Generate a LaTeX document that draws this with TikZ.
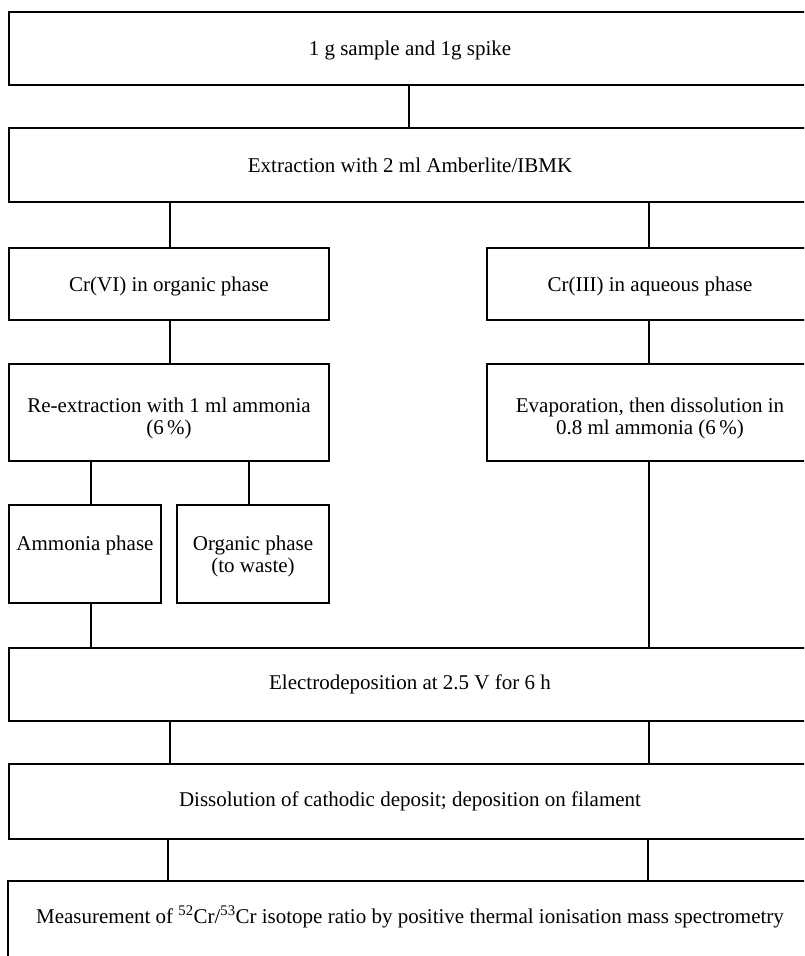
\documentclass[tikz,border=0pt]{standalone}
\usepackage{fontspec}
\setmainfont{Liberation Serif}
\tikzset{
  box/.style={draw=black, line width=1.8pt, rectangle, inner sep=0pt, align=center,
    font=\fontsize{21}{22}\selectfont},
  link/.style={draw=black, line width=1.8pt},
}
\newcommand{\bx}[6]{% name, x1, y1, x2, y2, text
  \node[box, minimum width={(#4-#2)*1pt}, minimum height={(#5-#3)*1pt}] (#1) at ({(#2+#4)/2},{(#3+#5)/2}) {#6};}
\newcommand{\lowtext}[2]{\raisebox{#1}[\height][\depth]{\begin{tabular}{@{}c@{}}#2\end{tabular}}}
\begin{document}
\begin{tikzpicture}[x=1pt, y=-1pt]
\useasboundingbox (0,0) rectangle (804,956);
\clip (0,0) rectangle (804,956);
\fill[white] (0,0) rectangle (804,956);
\bx{top}{9}{12}{811}{85}{\lowtext{-3pt}{1 g sample and 1g spike}}
\bx{ext}{9}{128}{811}{202}{Extraction with 2 ml Amberlite/IBMK}
\bx{cr6}{9}{248}{329}{320}{\lowtext{-3pt}{Cr(VI) in organic phase}}
\bx{cr3}{487}{248}{813}{320}{\lowtext{-3pt}{Cr(III) in aqueous phase}}
\bx{rex}{9}{364}{329}{461}{\lowtext{-7pt}{Re-extraction with 1 ml ammonia\\(6\,\%)}}
\bx{evap}{487}{364}{813}{461}{\lowtext{-7pt}{Evaporation, then dissolution in\\0.8 ml ammonia (6\,\%)}}
\bx{amm}{9}{505}{161}{603}{\lowtext{-3pt}{Ammonia phase\\\mbox{}}}
\bx{org}{177}{505}{329}{603}{\lowtext{-3pt}{Organic phase\\(to waste)}}
\bx{elec}{9}{648}{811}{721}{Electrodeposition at 2.5 V for 6 h}
\bx{diss}{9}{764}{811}{839}{Dissolution of cathodic deposit; deposition on filament}
\node[box, draw=none, minimum width=802pt, minimum height=70pt] (meas) at (410,917)
  {Measurement of \textsuperscript{52}Cr/\textsuperscript{53}Cr isotope ratio by positive thermal ionisation mass spectrometry};
\draw[link] ([yshift=-90pt]meas.north west) -- (meas.north west) -- (meas.north east);
% connectors
\draw[link] (top.south -| 409,0) -- (ext.north -| 409,0);
\draw[link] (ext.south -| 170,0) -- (cr6.north -| 170,0);
\draw[link] (ext.south -| 649,0) -- (cr3.north -| 649,0);
\draw[link] (cr6.south -| 170,0) -- (rex.north -| 170,0);
\draw[link] (cr3.south -| 649,0) -- (evap.north -| 649,0);
\draw[link] (rex.south -| 91,0) -- (amm.north -| 91,0);
\draw[link] (rex.south -| 249,0) -- (org.north -| 249,0);
\draw[link] (amm.south -| 91,0) -- (elec.north -| 91,0);
\draw[link] (evap.south -| 649,0) -- (elec.north -| 649,0);
\draw[link] (elec.south -| 170,0) -- (diss.north -| 170,0);
\draw[link] (elec.south -| 649,0) -- (diss.north -| 649,0);
\draw[link] (diss.south -| 168,0) -- (meas.north -| 168,0);
\draw[link] (diss.south -| 648,0) -- (meas.north -| 648,0);
\end{tikzpicture}
\end{document}
